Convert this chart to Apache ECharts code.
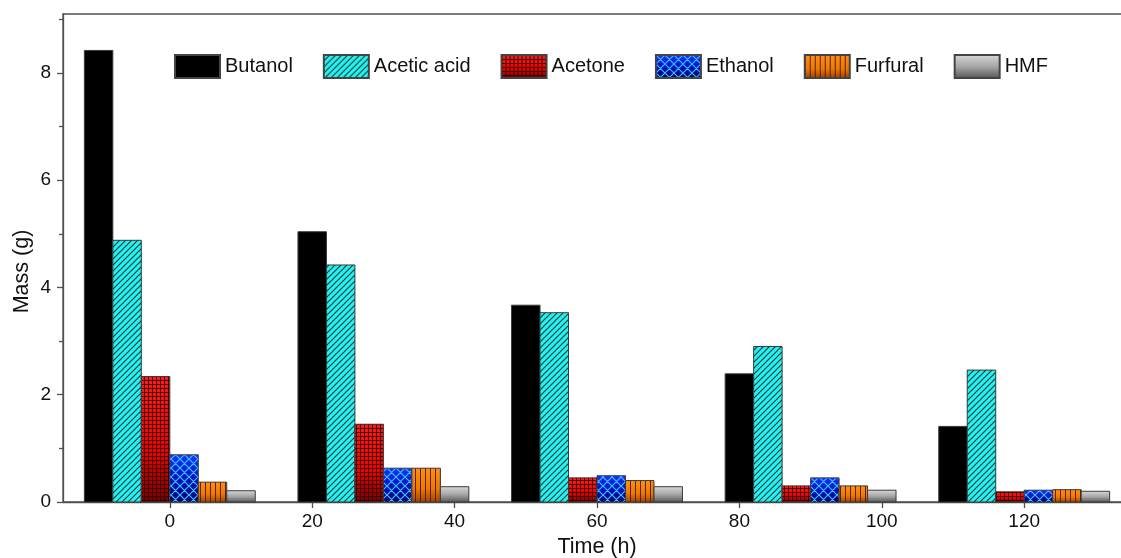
<!DOCTYPE html>
<html>
<head>
<meta charset="utf-8">
<script src="https://cdn.jsdelivr.net/npm/echarts@6/dist/echarts.min.js"></script>
<style>
html,body{margin:0;padding:0;background:#fff;}
#chart{width:1121px;height:558px;}
</style>
</head>
<body>
<div id="chart"></div>
<script>
// ---- data ----
const seriesNames = ['Butanol', 'Acetic acid', 'Acetone', 'Ethanol', 'Furfural', 'HMF'];
const times = [0, 30, 60, 90, 120];
const butanol = [8.42, 5.04, 3.67, 2.39, 1.41];
const aceticAcid = [4.88, 4.42, 3.53, 2.90, 2.46];
const acetone = [2.34, 1.45, 0.45, 0.30, 0.19];
const ethanol = [0.88, 0.63, 0.49, 0.45, 0.22];
const furfural = [0.37, 0.63, 0.40, 0.30, 0.23];
const hmf = [0.21, 0.285, 0.285, 0.22, 0.20];
const xTickLabels = [0, 20, 40, 60, 80, 100, 120];
const yTickLabels = [0, 2, 4, 6, 8];
const yMinorTicks = [1, 3, 5, 7, 9];

// ---- styles ----
const FONT = '"Liberation Sans", Arial, sans-serif';
const BAR_W = 4;          // bar width in hours
const GROUP_HALF = 12;    // half group width in hours
const AXIS_COLOR = '#505050';

function makeTile(w, h, draw) {
  const c = document.createElement('canvas');
  c.width = w; c.height = h;
  draw(c.getContext('2d'), w, h);
  return c;
}
function diagSlash(ctx, s) {
  ctx.moveTo(-1, s + 1); ctx.lineTo(s + 1, -1);
  ctx.moveTo(-1, 1); ctx.lineTo(1, -1);
  ctx.moveTo(s - 1, s + 1); ctx.lineTo(s + 1, s - 1);
}
function diagBack(ctx, s) {
  ctx.moveTo(-1, -1); ctx.lineTo(s + 1, s + 1);
  ctx.moveTo(s - 1, -1); ctx.lineTo(s + 1, 1);
  ctx.moveTo(-1, s - 1); ctx.lineTo(1, s + 1);
}
const tiles = {
  acetic: makeTile(6, 6, (ctx, s) => {
    ctx.strokeStyle = '#123c3c'; ctx.lineWidth = 1.2;
    ctx.beginPath(); diagSlash(ctx, 6); ctx.stroke();
  }),
  acetone: makeTile(4, 4, (ctx) => {
    ctx.fillStyle = 'rgba(35,0,0,0.8)';
    ctx.fillRect(0, 0, 4, 1); ctx.fillRect(0, 0, 1, 4);
  }),
  ethanol: makeTile(9, 9, (ctx) => {
    ctx.strokeStyle = '#34c6ff'; ctx.lineWidth = 1.2;
    ctx.beginPath(); diagSlash(ctx, 9); diagBack(ctx, 9); ctx.stroke();
  }),
  furfural: makeTile(5, 1, (ctx) => {
    ctx.fillStyle = 'rgba(70,25,0,0.9)';
    ctx.fillRect(0, 0, 1, 1);
  })
};
const gradStops = {
  butanol: [[0, '#000000'], [1, '#000000']],
  acetic: [[0, '#22f4f4'], [1, '#22f4f4']],
  acetone: [[0, '#ff1a1a'], [0.6, '#f00000'], [1, '#7a0000']],
  ethanol: [[0, '#1a34ff'], [0.5, '#0010c8'], [1, '#00006a']],
  furfural: [[0, '#ff8e14'], [0.6, '#f07800'], [1, '#a04400']],
  hmf: [[0, '#d6d6d6'], [0.5, '#a6a6a6'], [1, '#5a5a5a']]
};
const seriesKeys = ['butanol', 'acetic', 'acetone', 'ethanol', 'furfural', 'hmf'];
const seriesValues = [butanol, aceticAcid, acetone, ethanol, furfural, hmf];

function legendImage(key) {
  return makeTile(45, 23, (ctx, w, h) => {
    const g = ctx.createLinearGradient(0, 0, 0, h);
    gradStops[key].forEach(s => g.addColorStop(s[0], s[1]));
    ctx.fillStyle = g; ctx.fillRect(0, 0, w, h);
    if (tiles[key]) {
      ctx.fillStyle = ctx.createPattern(tiles[key], 'repeat');
      ctx.fillRect(0, 0, w, h);
    }
  });
}

function makeSeries(idx) {
  const key = seriesKeys[idx];
  const values = seriesValues[idx];
  const grad = new echarts.graphic.LinearGradient(0, 0, 0, 1,
    gradStops[key].map(s => ({offset: s[0], color: s[1]})));
  const tile = tiles[key];
  return {
    type: 'custom',
    name: seriesNames[idx],
    data: times.map((t, i) => [t, values[i]]),
    encode: {x: 0, y: 1},
    itemStyle: {
      color: {image: legendImage(key), repeat: 'repeat'},
      borderColor: '#444', borderWidth: 1
    },
    renderItem: function (params, api) {
      const t = api.value(0), v = api.value(1);
      const x0 = t - GROUP_HALF + idx * BAR_W;
      const pTop = api.coord([x0, v]);
      const pBot = api.coord([x0 + BAR_W, 0]);
      const shape = {x: pTop[0], y: pTop[1], width: pBot[0] - pTop[0], height: pBot[1] - pTop[1]};
      const children = [{type: 'rect', shape: shape, style: {fill: grad}}];
      if (tile) children.push({type: 'rect', shape: shape, style: {fill: {image: tile, repeat: 'repeat'}}});
      children.push({type: 'rect', shape: shape, style: {fill: 'none', stroke: '#3a3a3a', lineWidth: 1}});
      return {type: 'group', children: children};
    }
  };
}

const chart = echarts.init(document.getElementById('chart'), null, {renderer: 'canvas'});
chart.setOption({
  animation: false,
  backgroundColor: '#fff',
  textStyle: {fontFamily: FONT},
  grid: {
    left: 63, top: 14, width: 1068, height: 488,
    outerBoundsMode: 'none', containLabel: false,
    show: true, borderColor: AXIS_COLOR, borderWidth: 1.3, backgroundColor: 'transparent'
  },
  legend: {
    left: 169, top: 49,
    itemWidth: 45, itemHeight: 23, itemGap: 30,
    icon: 'rect',
    textStyle: {fontSize: 20, color: '#111', fontFamily: FONT},
    data: seriesNames
  },
  xAxis: {
    type: 'value', min: -15, max: 135,
    name: 'Time (h)', nameLocation: 'middle', nameGap: 32,
    nameTextStyle: {fontSize: 21.5, color: '#111', fontFamily: FONT},
    axisLine: {show: true, onZero: false, lineStyle: {color: AXIS_COLOR, width: 1.3}},
    axisTick: {show: true, inside: false, length: 6, customValues: xTickLabels, lineStyle: {color: AXIS_COLOR, width: 1.3}},
    axisLabel: {show: true, customValues: xTickLabels, fontSize: 19, color: '#111', margin: 10, fontFamily: FONT},
    splitLine: {show: false}
  },
  yAxis: [{
    type: 'value', min: 0, max: 9.1,
    name: 'Mass (g)', nameLocation: 'middle', nameGap: 30, nameMoveOverlap: false,
    nameTextStyle: {fontSize: 21.5, color: '#111', fontFamily: FONT, padding: [0, 27, 0, 0]},
    axisLine: {show: true, onZero: false, lineStyle: {color: AXIS_COLOR, width: 1.3}},
    axisTick: {show: true, inside: false, length: 6, customValues: yTickLabels, lineStyle: {color: AXIS_COLOR, width: 1.3}},
    axisLabel: {show: true, customValues: yTickLabels, fontSize: 19, color: '#111', margin: 12, fontFamily: FONT},
    splitLine: {show: false}
  }, {
    type: 'value', min: 0, max: 9.1, position: 'left',
    axisLine: {show: false, onZero: false},
    axisTick: {show: true, inside: false, length: 4, customValues: yMinorTicks, lineStyle: {color: AXIS_COLOR, width: 1.3}},
    axisLabel: {show: false},
    splitLine: {show: false}
  }],
  series: seriesNames.map((n, i) => makeSeries(i))
});
</script>
</body>
</html>
